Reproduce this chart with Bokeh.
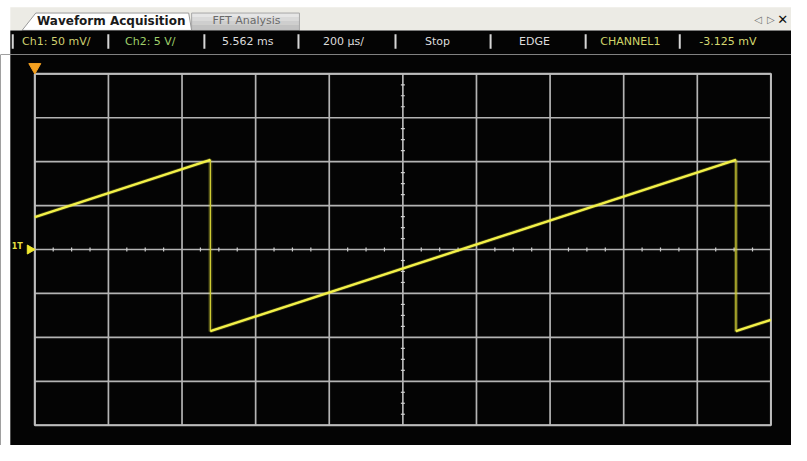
import math
from bokeh.plotting import figure
from bokeh.layouts import column
from bokeh.models import Range1d, ColumnDataSource
from bokeh.core.properties import value
from bokeh.embed import file_html
from bokeh.resources import INLINE

# ---------------- data ----------------
# Channel 1 sawtooth vertices (time in microseconds, amplitude in mV)
trace_time_us = [-1000, -523, -523, 905, 905, 1000]
trace_ch1_mv = [36.8, 102.0, -93.0, 102.0, -93.0, -80.0]
ramp_first_index = [0, 2, 4]          # each rising ramp: vertex i -> i+1

# graticule: 200 us/div (10 div), 50 mV/div (8 div)
time_ticks_us = [-1000, -800, -600, -400, -200, 0, 200, 400, 600, 800, 1000]
volt_ticks_mv = [-200, -150, -100, -50, 0, 50, 100, 150, 200]
time_minor_us = [t for t in range(-1000, 1001, 50) if t % 200 != 0]
volt_minor_mv = [v / 10 for v in range(-2000, 2001, 125) if v % 500 != 0]

tab_labels = ["Waveform Acquisition", "FFT Analysis"]
status_labels = ["Ch1: 50 mV/", "Ch2: 5 V/", "5.562 ms", "200 µs/",
                 "Stop", "EDGE", "CHANNEL1", "-3.125 mV"]
status_colors = ["#cfd070", "#9fcf6a", "#dcdcdc", "#dcdcdc",
                 "#dcdcdc", "#dcdcdc", "#cfd468", "#d4d870"]
status_x = [22, 127, 226, 329, 433, 529, 612, 713]
separator_x = [12.5, 110, 208, 304, 403, 500, 597, 693]

FONT = value("DejaVu Sans")

# ---------------- layout geometry (reference pixel space 807 x 461) ----------------
W, H = 791, 445
REF_W, REF_H = 807, 461
HDR_REF_H = 56
hdr_h = round(H * HDR_REF_H / REF_H)
main_h = H - hdr_h

# ---------------- header (tabs + status bar) ----------------
hdr = figure(width=W, height=hdr_h, x_range=Range1d(0, REF_W), y_range=Range1d(HDR_REF_H, 0),
             output_backend="svg", toolbar_location=None,
             x_axis_location=None, y_axis_location=None, min_border=0,
             outline_line_color=None, background_fill_color="white",
             border_fill_color="white")
hdr.grid.grid_line_color = None

hdr.quad(left=10, right=REF_W, top=7, bottom=31, fill_color="#ecebe5", line_color=None)
bands = [(13, 17, "#e6e6e6"), (17, 21, "#dadada"), (21, 25, "#cecece"), (25, 31, "#c2c2c2")]
for t, b, c in bands:
    hdr.quad(left=195, right=305, top=t, bottom=b, fill_color=c, line_color=None)
hdr.quad(left=195, right=305, top=13, bottom=31, fill_color=None, line_color="#a8a8a8", line_width=1)
hdr.patch(x=[22, 36, 192, 195], y=[31, 13, 13, 31], fill_color="white",
          line_color="#9a9a9a", line_width=1)
hdr.text(x=[113], y=[21], text=[tab_labels[0]], text_font=FONT, text_font_size="12px",
         text_font_style="bold", text_color="#1a1a1a", text_align="center",
         text_baseline="middle")
hdr.text(x=[251], y=[21], text=[tab_labels[1]], text_font=FONT, text_font_size="11px",
         text_color="#6a6a6a", text_align="center", text_baseline="middle")
hdr.text(x=[773, 786, 798], y=[20, 20, 20], text=["◁", "▷", "✕"], text_font=FONT,
         text_font_size=["10px", "10px", "13px"], text_color=["#707070", "#707070", "#101010"],
         text_font_style=["normal", "normal", "bold"],
         text_align="center", text_baseline="middle")

hdr.quad(left=10, right=REF_W, top=31, bottom=HDR_REF_H + 1, fill_color="#040404", line_color=None)
hdr.segment(x0=separator_x, y0=[35] * len(separator_x), x1=separator_x,
            y1=[50] * len(separator_x), line_color="#d6d6d6", line_width=2)
status_src = ColumnDataSource(dict(x=status_x, y=[43] * len(status_x),
                                   text=status_labels, color=status_colors))
hdr.text(x="x", y="y", text="text", text_color="color", source=status_src,
         text_font=FONT, text_font_size="11px", text_align="left",
         text_baseline="middle")

# ---------------- scope screen ----------------
GRID_L, GRID_R, GRID_T, GRID_B = 35, 786, 76, 440      # reference pixels
us_per_px = (time_ticks_us[-1] - time_ticks_us[0]) / (GRID_R - GRID_L)
mv_per_px = (volt_ticks_mv[-1] - volt_ticks_mv[0]) / (GRID_B - GRID_T)
x_start = time_ticks_us[0] - GRID_L * us_per_px
x_end = time_ticks_us[-1] + (REF_W - GRID_R) * us_per_px
y_top = volt_ticks_mv[-1] + (GRID_T - HDR_REF_H) * mv_per_px
y_bot = volt_ticks_mv[0] - (REF_H - GRID_B) * mv_per_px

p = figure(width=W, height=main_h, x_range=Range1d(x_start, x_end), y_range=Range1d(y_bot, y_top),
           output_backend="svg", toolbar_location=None,
           x_axis_location=None, y_axis_location=None, min_border=0,
           background_fill_color="#040404", border_fill_color="#040404",
           outline_line_color=None)
p.grid.grid_line_color = None

# white window edge on the left
p.quad(left=x_start, right=x_start + 10 * us_per_px, bottom=y_bot, top=y_top,
       fill_color="white", line_color=None)

# graticule
p.segment(x0=time_ticks_us, y0=[volt_ticks_mv[0]] * len(time_ticks_us),
          x1=time_ticks_us, y1=[volt_ticks_mv[-1]] * len(time_ticks_us),
          line_color="#b4b4b4", line_width=1.7)
p.segment(x0=[time_ticks_us[0]] * len(volt_ticks_mv), y0=volt_ticks_mv,
          x1=[time_ticks_us[-1]] * len(volt_ticks_mv), y1=volt_ticks_mv,
          line_color="#b4b4b4", line_width=1.7)
p.quad(left=time_ticks_us[0], right=time_ticks_us[-1], bottom=volt_ticks_mv[0],
       top=volt_ticks_mv[-1], fill_color=None, line_color="#bcbcbc", line_width=2)

# center-line minor ticks
p.scatter(x=time_minor_us, y=[0] * len(time_minor_us), marker="dash", angle=math.pi / 2,
          size=4, line_color="#d0d0d0", line_width=1.2)
p.scatter(x=[0] * len(volt_minor_mv), y=volt_minor_mv, marker="dash",
          size=4, line_color="#d0d0d0", line_width=1.2)

# trace
p.line(trace_time_us, trace_ch1_mv, line_color="#e0e040", line_width=4, line_alpha=0.25)
p.line(trace_time_us, trace_ch1_mv, line_color="#cfcc34", line_width=1.3)
p.segment(x0=[trace_time_us[i] for i in ramp_first_index],
          y0=[trace_ch1_mv[i] for i in ramp_first_index],
          x1=[trace_time_us[i + 1] for i in ramp_first_index],
          y1=[trace_ch1_mv[i + 1] for i in ramp_first_index],
          line_color="#f2f048", line_width=2.4)

# trigger position marker (above the graticule) and channel-1 ground marker
p.scatter(x=[time_ticks_us[0]], y=[volt_ticks_mv[-1] + 7 * mv_per_px],
          marker="inverted_triangle", size=12, fill_color="#f4a020", line_color="#f4a020")
p.scatter(x=[time_ticks_us[0] - 5 * us_per_px], y=[0], marker="triangle", angle=-math.pi / 2,
          size=9, fill_color="#f0e830", line_color="#f0e830")
p.text(x=[time_ticks_us[0] - 18 * us_per_px], y=[3 * mv_per_px], text=["1T"],
       text_font=FONT, text_font_size="8px", text_font_style="bold", text_color="#e8e040",
       text_align="center", text_baseline="middle")

layout = column(hdr, p, spacing=0)
open("out.html", "w").write(file_html(layout, INLINE))
